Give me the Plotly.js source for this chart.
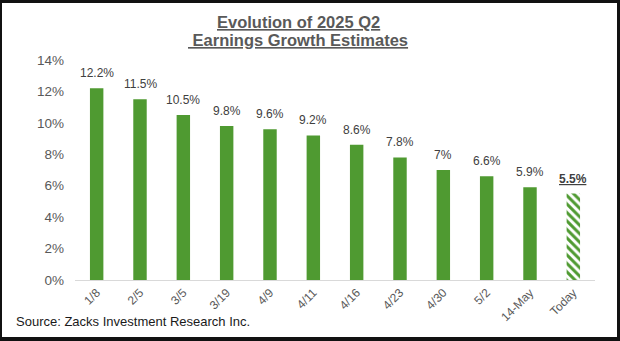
<!DOCTYPE html>
<html>
<head>
<meta charset="utf-8">
<script src="https://cdn.plot.ly/plotly-3.0.1.min.js"></script>
<style>
body{margin:0;padding:0;background:#fff;}
#wrap{position:relative;width:620px;height:341px;overflow:hidden;}
#chart{width:620px;height:341px;}
#frame{position:absolute;left:0;top:0;width:620px;height:341px;box-sizing:border-box;
border-top:3px solid #111;border-left:2px solid #111;border-right:3px solid #111;border-bottom:4px solid #111;pointer-events:none;}
</style>
</head>
<body>
<div id="wrap"><div id="chart"></div><div id="frame"></div></div>
<script>
const categories = ["1/8","2/5","3/5","3/19","4/9","4/11","4/16","4/23","4/30","5/2","14-May","Today"];
const values = [12.2, 11.5, 10.5, 9.8, 9.6, 9.2, 8.6, 7.8, 7.0, 6.6, 5.9, 5.5];
const labels = ["12.2%","11.5%","10.5%","9.8%","9.6%","9.2%","8.6%","7.8%","7%","6.6%","5.9%","5.5%"];
const yTicks = [0,2,4,6,8,10,12,14];
const titleLines = ["Evolution of 2025 Q2", " Earnings Growth Estimates"];
const source = "Source: Zacks Investment Research Inc.";

const green = "#4F9A31";
const font = "Liberation Sans, Arial, sans-serif";
const n = categories.length;

const solid = {
  type: "bar",
  x: categories.slice(0, n-1),
  y: values.slice(0, n-1),
  marker: {color: green, line: {width: 0}},
  hoverinfo: "skip"
};
const today = {
  type: "bar",
  x: categories.slice(n-1),
  y: values.slice(n-1),
  marker: {
    color: "#ffffff",
    line: {width: 0},
    pattern: {shape: "\\", fgcolor: green, bgcolor: "#ffffff", solidity: 0.5, size: 6, fillmode: "replace"}
  },
  hoverinfo: "skip"
};

const valueAnns = categories.map((c, i) => ({
  x: c, y: values[i], xref: "x", yref: "y",
  text: i === n-1 ? "<b>" + labels[i] + "</b>" : labels[i],
  showarrow: false, yanchor: "bottom", xanchor: "center", yshift: 6,
  font: i === n-1
    ? {family: font, size: 12, color: "#404040", lineposition: "under"}
    : {family: font, size: 12, color: "#404040"}
}));

const titleAnns = titleLines.map((t, i) => ({
  text: t, xref: "paper", yref: "paper",
  x: (298 - 75) / 520, y: 1 + (60 - (i === 0 ? 33 : 51)) / 220,
  xanchor: "center", yanchor: "bottom", showarrow: false,
  font: {family: font, size: 16.5, color: "#595959", weight: "bold", lineposition: "under"}
}));

const layout = {
  width: 620, height: 341,
  margin: {l: 75, r: 25, t: 60, b: 61},
  paper_bgcolor: "#fff", plot_bgcolor: "#fff",
  bargap: 0.69,
  barmode: "overlay",
  showlegend: false,
  font: {family: font, color: "#595959"},
  xaxis: {
    type: "category",
    categoryarray: categories, categoryorder: "array",
    tickangle: -45,
    tickfont: {family: font, size: 12, color: "#595959"},
    showline: true, linecolor: "#d9d9d9", linewidth: 1,
    ticks: "", showgrid: false, zeroline: false
  },
  yaxis: {
    range: [0, 14],
    tickvals: yTicks,
    ticktext: yTicks.map(v => v + "%"),
    tickfont: {family: font, size: 13.5, color: "#595959"},
    showgrid: false, zeroline: false, showline: false, ticks: "",
    ticklabelstandoff: 10
  },
  annotations: valueAnns.concat(titleAnns).concat([{
    text: source,
    xref: "paper", yref: "paper",
    x: -0.117, y: -0.19, xanchor: "left", yanchor: "middle",
    showarrow: false,
    font: {family: font, size: 13, color: "#1a1a1a"}
  }])
};

Plotly.newPlot("chart", [solid, today], layout, {displayModeBar: false, staticPlot: true});
</script>
</body>
</html>
